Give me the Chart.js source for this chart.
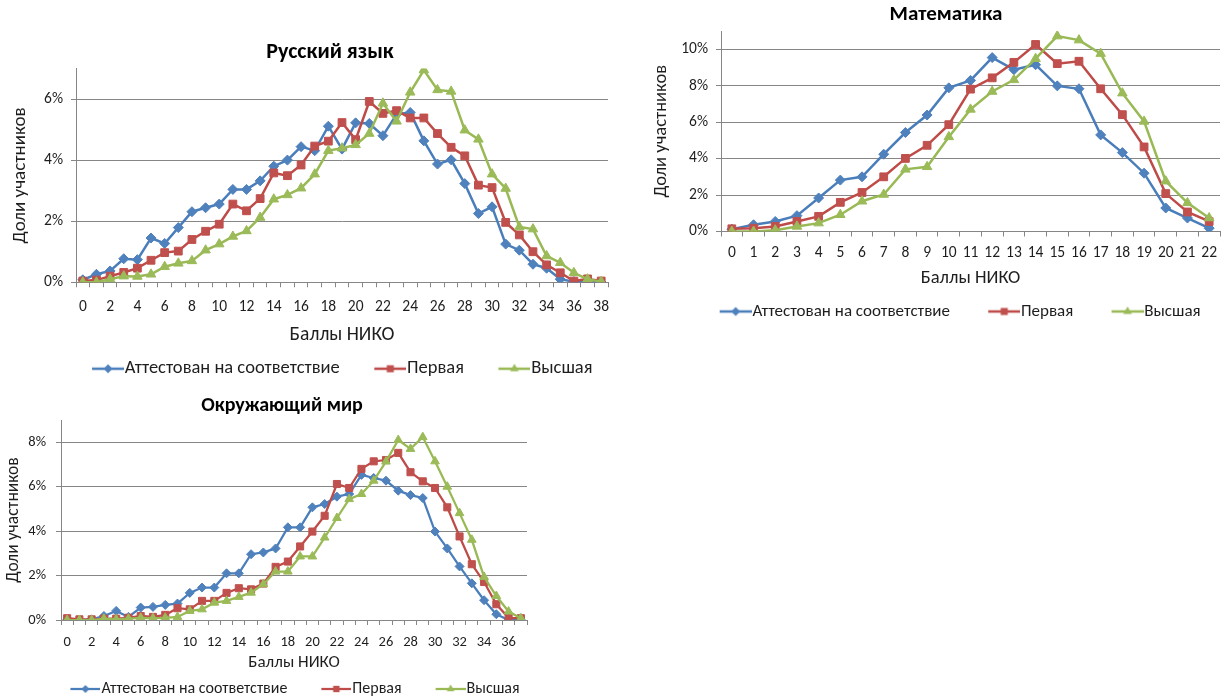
<!DOCTYPE html>
<html lang="ru">
<head>
<meta charset="UTF-8">
<title>Баллы НИКО</title>
<script src="https://cdn.jsdelivr.net/npm/chart.js@4.4.1/dist/chart.umd.min.js"></script>
<style>
  html, body { margin: 0; padding: 0; background: #fff; overflow: hidden; }
  body { width: 1226px; height: 700px; position: relative; }
  canvas { position: absolute; }
</style>
</head>
<body>
<canvas id="rus" width="660" height="388" style="left:0;top:0"></canvas>
<canvas id="math" width="596" height="330" style="left:648px;top:0"></canvas>
<canvas id="world" width="564" height="327" style="left:0;top:380px"></canvas>
<script>
const seriesNames = ['Аттестован на соответствие', 'Первая', 'Высшая'];

// Русский язык, баллы 0..38, доля участников в %
const rusScores = Array.from({ length: 39 }, (_, i) => String(i));
const rusBlue = [0.08, 0.26, 0.37, 0.77, 0.74, 1.45, 1.27, 1.79, 2.31, 2.44, 2.56, 3.04, 3.04, 3.32, 3.80, 4.00, 4.44, 4.31, 5.11, 4.36,
  5.22, 5.2, 4.8, 5.5, 5.56, 4.63, 3.87, 4.01, 3.23, 2.25, 2.47, 1.25, 1.05, 0.59, 0.46, 0.10, 0.02, 0, 0];
const rusRed = [0.04, 0.07, 0.2, 0.32, 0.46, 0.72, 0.97, 1.02, 1.4, 1.67, 1.9, 2.56, 2.34, 2.74, 3.58, 3.49, 3.84, 4.46, 4.62, 5.23,
  4.67, 5.92, 5.53, 5.62, 5.38, 5.38, 4.87, 4.42, 4.14, 3.18, 3.1, 1.96, 1.55, 1.0, 0.57, 0.31, 0.04, 0.11, 0.04];
const rusGreen = [0, 0, 0.1, 0.2, 0.19, 0.26, 0.51, 0.62, 0.7, 1.05, 1.25, 1.5, 1.68, 2.12, 2.72, 2.86, 3.08, 3.54, 4.31, 4.39,
  4.5, 4.87, 5.86, 5.27, 6.22, 6.95, 6.3, 6.25, 4.98, 4.68, 3.54, 3.07, 1.81, 1.74, 0.86, 0.64, 0.31, 0.1, 0.02];

// Математика, баллы 0..22
const mathScores = Array.from({ length: 23 }, (_, i) => String(i));
const mathBlue = [0.13, 0.37, 0.55, 0.87, 1.84, 2.82, 3.0, 4.24, 5.43, 6.39, 7.88, 8.29, 9.54, 8.88, 9.15, 7.99, 7.83, 5.3, 4.33, 3.2, 1.29, 0.74, 0.18];
const mathRed = [0.15, 0.18, 0.28, 0.55, 0.83, 1.6, 2.14, 3.0, 4.01, 4.73, 5.86, 7.81, 8.43, 9.28, 10.26, 9.21, 9.34, 7.83, 6.41, 4.64, 2.08, 1.07, 0.55];
const mathGreen = [0, 0, 0.07, 0.28, 0.46, 0.92, 1.66, 2.03, 3.41, 3.55, 5.19, 6.7, 7.68, 8.32, 9.48, 10.72, 10.5, 9.76, 7.59, 6.04, 2.76, 1.57, 0.74];

// Окружающий мир, баллы 0..37
const worldScores = Array.from({ length: 38 }, (_, i) => String(i));
const worldBlue = [0, 0, 0.03, 0.18, 0.41, 0.14, 0.56, 0.59, 0.68, 0.74, 1.22, 1.46, 1.46, 2.1, 2.1, 2.96, 3.04, 3.22, 4.17, 4.17,
  5.07, 5.22, 5.55, 5.67, 6.53, 6.39, 6.27, 5.82, 5.62, 5.49, 3.98, 3.22, 2.41, 1.65, 0.89, 0.26, 0, 0];
const worldRed = [0.08, 0.03, 0.03, 0.06, 0.06, 0.1, 0.18, 0.14, 0.23, 0.53, 0.48, 0.86, 0.86, 1.22, 1.43, 1.38, 1.64, 2.39, 2.63, 3.31,
  3.98, 4.69, 6.12, 5.94, 6.8, 7.14, 7.2, 7.52, 6.65, 6.24, 5.94, 5.07, 3.76, 2.51, 1.71, 0.71, 0.1, 0.08];
const worldGreen = [0, 0, 0, 0.06, 0.03, 0.06, 0.1, 0.08, 0.1, 0.14, 0.41, 0.48, 0.78, 0.86, 1.04, 1.23, 1.61, 2.18, 2.18, 2.86,
  2.86, 3.71, 4.59, 5.44, 5.67, 6.27, 7.13, 8.1, 7.7, 8.23, 7.14, 6.0, 4.81, 3.61, 1.94, 1.08, 0.38, 0.08];

const FONT = 'Carlito, Lato, "Open Sans", sans-serif';
const lineColors = ['#4a7ebb', '#be4b48', '#98b954'];
const markerColors = ['#4f81bd', '#c0504d', '#9bbb59'];
const markerStyles = ['rectRot', 'rect', 'triangle'];
const GRID = '#868686';
const TEXT = '#1e1e1e';

// legend swatch: line with the marker in its middle, drawn at the right of the image
function makeIcon(w, lineLen, i, r, lw) {
  const c = document.createElement('canvas');
  c.width = w; c.height = 16;
  const g = c.getContext('2d');
  const y = 8, xm = w - lineLen / 2;
  g.strokeStyle = lineColors[i]; g.lineWidth = lw;
  g.beginPath(); g.moveTo(w - lineLen, y); g.lineTo(w, y); g.stroke();
  g.fillStyle = markerColors[i];
  g.beginPath();
  if (markerStyles[i] === 'rectRot') {
    g.moveTo(xm, y - r); g.lineTo(xm + r, y); g.lineTo(xm, y + r); g.lineTo(xm - r, y);
  } else if (markerStyles[i] === 'rect') {
    const s = r * Math.SQRT1_2;
    g.rect(xm - s, y - s, 2 * s, 2 * s);
  } else {
    g.moveTo(xm, y - r); g.lineTo(xm + r * 0.866, y + r / 2); g.lineTo(xm - r * 0.866, y + r / 2);
  }
  g.closePath(); g.fill();
  return c;
}

function buildChart(o) {
  const datasets = [o.blue, o.red, o.green].map((vals, i) => ({
    label: seriesNames[i],
    data: vals,
    order: 3 - i,
    borderColor: lineColors[i],
    borderWidth: o.lineWidth,
    backgroundColor: markerColors[i],
    pointBackgroundColor: markerColors[i],
    pointBorderColor: markerColors[i],
    pointBorderWidth: 1,
    pointStyle: markerStyles[i],
    pointRadius: o.radius[i],
    tension: 0,
    fill: false
  }));
  const icons = [0, 1, 2].map(i => makeIcon(Math.round(o.boxW + o.legendFont - 2), o.lineLen, i, o.radius[i] - 0.5, o.lineWidth));

  new Chart(document.getElementById(o.canvas), {
    type: 'line',
    data: { labels: o.labels, datasets },
    options: {
      responsive: false,
      animation: false,
      layout: { padding: 0 },
      plugins: {
        tooltip: { enabled: false },
        title: {
          display: true,
          text: o.title,
          color: '#000',
          font: { family: FONT, size: o.titleFont, weight: 'bold' },
          padding: o.titlePad
        },
        legend: {
          position: 'bottom',
          labels: {
            usePointStyle: true,
            pointStyleWidth: o.boxW,
            padding: o.legendPad,
            color: TEXT,
            font: { family: FONT, size: o.legendFont },
            sort: (a, b) => a.datasetIndex - b.datasetIndex,
            generateLabels: chart => Chart.defaults.plugins.legend.labels.generateLabels(chart)
              .map(it => Object.assign(it, { pointStyle: icons[it.datasetIndex] }))
          }
        }
      },
      scales: {
        x: {
          type: 'category',
          offset: true,
          afterFit: s => { s.height = o.xHeight; },
          grid: { drawOnChartArea: false, drawTicks: true, tickLength: 5, offset: true, color: GRID },
          border: { color: GRID },
          ticks: {
            autoSkip: false, maxRotation: 0, minRotation: 0,
            padding: o.xTickPad, color: TEXT,
            font: { family: FONT, size: o.xTickFont },
            callback: (v, i) => (o.everyOther && i % 2) ? '' : o.labels[i]
          },
          title: {
            display: true, text: 'Баллы НИКО', color: TEXT,
            font: { family: FONT, size: o.xTitleFont },
            padding: { top: 0, bottom: o.xTitlePadBottom }
          }
        },
        y: {
          min: 0, max: o.yMax,
          afterFit: s => { s.width = o.yWidth; },
          afterBuildTicks: s => { s.ticks = s.ticks.filter(t => t.value % 2 === 0); },
          grid: { color: GRID, tickLength: 5, lineWidth: 1 },
          border: { color: GRID },
          ticks: {
            stepSize: 2, padding: o.yTickPad, color: TEXT,
            font: { family: FONT, size: o.yTickFont },
            callback: v => v + '%'
          },
          title: {
            display: true, text: 'Доли участников', color: TEXT,
            font: { family: FONT, size: o.yTitleFont },
            padding: { top: o.yTitlePadTop, bottom: 0 }
          }
        },
        spacer: {
          type: 'linear', position: 'right', display: true,
          afterFit: s => { s.width = o.rightWidth; },
          grid: { display: false, drawTicks: false },
          border: { display: false },
          ticks: { display: false }
        }
      }
    }
  });
}

buildChart({
  canvas: 'rus', title: 'Русский язык', labels: rusScores,
  blue: rusBlue, red: rusRed, green: rusGreen,
  yMax: 7, titleFont: 22, titlePad: { top: 38.8, bottom: 3.3 },
  yWidth: 76, yTitleFont: 19, yTitlePadTop: 8.6, yTickFont: 15.5, yTickPad: 8,
  xHeight: 67.25, xTickFont: 15.5, xTickPad: 10.9, xTitleFont: 19.5, xTitlePadBottom: 2.75, everyOther: true,
  rightWidth: 52, legendFont: 18.5, legendPad: 10, boxW: 48, lineLen: 32,
  radius: [5, 5.5, 5.5], lineWidth: 2.5
});

buildChart({
  canvas: 'math', title: 'Математика', labels: mathScores,
  blue: mathBlue, red: mathRed, green: mathGreen,
  yMax: 11, titleFont: 21, titlePad: { top: 2.4, bottom: 3.4 },
  yWidth: 73, yTitleFont: 18.5, yTitlePadTop: 1.9, yTickFont: 15.5, yTickPad: 8,
  xHeight: 61.5, xTickFont: 15.5, xTickPad: 7.7, xTitleFont: 18.5, xTitlePadBottom: 3.1, everyOther: false,
  rightWidth: 24, legendFont: 17, legendPad: 10, boxW: 52.5, lineLen: 32,
  radius: [5, 5.5, 5.5], lineWidth: 2.5
});

buildChart({
  canvas: 'world', title: 'Окружающий мир', labels: worldScores,
  blue: worldBlue, red: worldRed, green: worldGreen,
  yMax: 9, titleFont: 20, titlePad: { top: 14, bottom: 2 },
  yWidth: 61, yTitleFont: 17.5, yTitlePadTop: 3.5, yTickFont: 14.5, yTickPad: 10,
  xHeight: 53, xTickFont: 14.5, xTickPad: 8.5, xTitleFont: 17, xTitlePadBottom: 0, everyOther: true,
  rightWidth: 37, legendFont: 16, legendPad: 8, boxW: 49, lineLen: 30,
  radius: [4.5, 5, 5], lineWidth: 2.25
});
</script>
</body>
</html>
